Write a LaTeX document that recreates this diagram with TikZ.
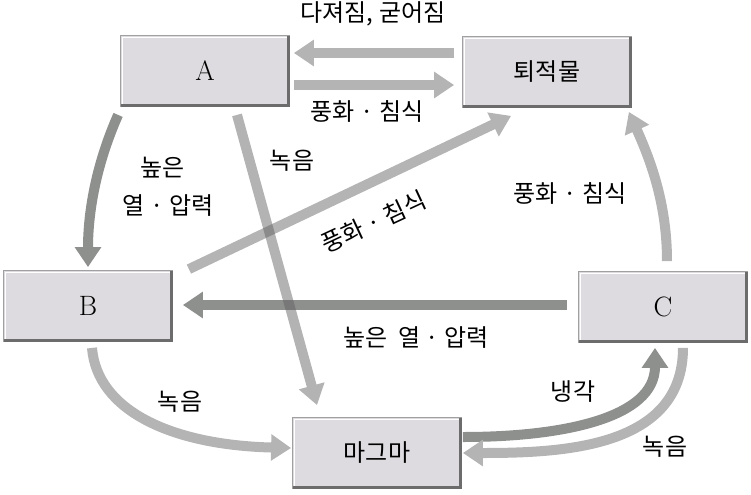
\documentclass[tikz,border=0pt]{standalone}
\usepackage{fontspec}
\newfontfamily\kr{Noto Sans CJK KR}
\usetikzlibrary{arrows.meta,calc}
\definecolor{boxfill}{RGB}{221,219,223}
\definecolor{boxline}{RGB}{160,160,160}
\definecolor{boxdark}{RGB}{108,108,108}
\definecolor{lightarr}{RGB}{180,180,180}
\definecolor{darkarr}{RGB}{142,144,142}
\definecolor{seethru}{RGB}{94,94,94}
\begin{document}
\begin{tikzpicture}[x=0.75pt,y=-0.75pt,
  rock/.style={draw=boxline,line width=0.6pt,fill=boxfill,minimum width=126.75pt,
    minimum height=53.25pt,inner sep=0pt,font=\fontsize{21}{22}\selectfont},
  bevel/.style={draw=boxdark,line width=2.2pt},
  lbl/.style={font=\kr\fontsize{18}{20}\selectfont},
  flow/.style={line width=7.5pt,-{Triangle[length=15pt,width=19pt]}},
  pale/.style={flow,draw=lightarr},
  deep/.style={flow,draw=darkarr},
  glass/.style={flow,draw=seethru}]
  \useasboundingbox (0,0) rectangle (751,494);
  \node[rock] (A) at (205,71) {A};
  \node[rock] (sed) at (547,72) {\kr\fontsize{18}{20}\selectfont 퇴적물};
  \node[rock] (B) at (88,306) {B};
  \node[rock] (C) at (663,307) {C};
  \node[rock] (mag) at (377,453) {\kr\fontsize{18}{20}\selectfont 마그마};
  \foreach \n in {A,sed,B,C,mag}{
    \draw[white,line width=0.8pt] ([shift={(2,-3)}]\n.south west) |- ([shift={(-3,2)}]\n.north east);
    \draw[bevel] ([shift={(-1.5,1)}]\n.north east) |- ([shift={(1,-1.5)}]\n.south west);
  }
  \draw[pale] ($(sed.west)+(-8,-19)$) -- ($(A.east)+(4,-18)$);
  \draw[pale] ($(A.east)+(4,14)$) -- ($(sed.west)+(-8,13)$);
  \draw[deep] ($(A.south west)+(-2,8)$) .. controls +(-20,45) and +(0,-60) .. ($(B.north)+(0,-3)$);
  \draw[pale] ($(B.north east)+(16,-1)$) -- ($(sed.south west)+(49,8)$);
  \draw[deep] ($(C.west)+(-11,-2)$) -- ($(B.east)+(10,-1)$);
  \draw[pale] ($(C.north)+(4,-10)$) .. controls +(0,-60) and +(20,45) .. ($(sed.south east)+(-3,4)$);
  \draw[pale] ($(B.south)+(4,6)$) .. controls +(5,62) and +(-121,-3) .. ($(mag.west)+(-1,-5)$);
  \draw[deep] ($(mag.east)+(1,-16)$) .. controls +(100,0) and +(0,70) .. ($(C.south)+(-8,5)$);
  \draw[pale] ($(C.south)+(20,5)$) .. controls +(0,100) and +(100,0) .. ($(mag.east)+(1,0)$);
  \begin{scope}[transparency group,opacity=0.47]
    \draw[glass] ($(A.south)+(32,8)$) -- ($(mag.north)+(-60,-12)$);
  \end{scope}
  \node[lbl] (tcomp) at (373,14) {다져짐, 굳어짐};
  \node[lbl] (tweatherA) at (367,111) {풍화 · 침식};
  \node[lbl] (thighA) at (163,168) {높은};
  \node[lbl] (tpressA) at (168,206) {열 · 압력};
  \node[lbl] (tmeltA) at (292,161) {녹음};
  \node[lbl,rotate=25] (tweatherB) at (374,222) {풍화 · 침식};
  \node[lbl] (tpressC) at (416,338) {높은\hspace{0.25em} 열 · 압력};
  \node[lbl] (tweatherC) at (570,193) {풍화 · 침식};
  \node[lbl] (tmeltB) at (180,402) {녹음};
  \node[lbl] (tcool) at (573,392) {냉각};
  \node[lbl] (tmeltC) at (665,447) {녹음};
\end{tikzpicture}
\end{document}
